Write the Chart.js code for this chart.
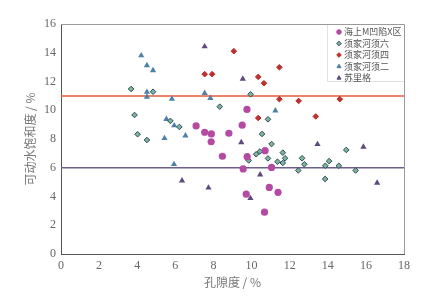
<!DOCTYPE html>
<html lang="zh">
<head>
<meta charset="UTF-8" />
<title>孔隙度与可动水饱和度</title>
<style>
  html, body { margin: 0; padding: 0; background: #fff; }
</style>
</head>
<body>
<canvas id="myChart" width="429" height="299"></canvas>
<script src="https://cdn.jsdelivr.net/npm/chart.js"></script>
<script>
// series names (legend order)
const seriesNames = ["海上M凹陷X区", "须家河须六", "须家河须四", "须家河须二", "苏里格"];

// 海上M凹陷X区
const xqX = [7.09, 7.54, 7.89, 7.88, 8.81, 9.51, 9.76, 8.47, 9.77, 10.71, 9.56, 11.05, 10.93, 11.39, 9.72, 10.68];
const xqY = [8.91, 8.47, 8.35, 7.81, 8.40, 8.96, 10.06, 6.80, 6.77, 7.19, 5.92, 6.02, 4.63, 4.29, 4.16, 2.91];

// 须家河须六
const x6X = [3.68, 4.83, 3.86, 5.74, 6.21, 4.02, 4.51, 8.33, 9.95, 10.86, 10.55, 11.05, 10.24, 10.44, 9.85,
             10.86, 11.64, 11.76, 11.36, 11.64, 12.45, 12.65, 12.77, 13.87, 14.07, 13.86, 14.58, 14.97, 15.46];
const x6Y = [11.48, 11.29, 9.67, 9.26, 8.84, 8.33, 7.93, 10.25, 11.11, 9.37, 8.35, 7.65, 6.94, 7.13, 6.51,
             6.65, 7.05, 6.66, 6.42, 6.33, 5.81, 6.66, 6.24, 6.14, 6.46, 5.22, 6.14, 7.24, 5.81];

// 须家河须四
const x4X = [7.54, 7.93, 9.07, 10.35, 10.65, 11.46, 10.35, 11.46, 12.47, 13.37, 14.63];
const x4Y = [12.51, 12.51, 14.11, 12.32, 11.88, 12.99, 9.46, 10.77, 10.65, 9.57, 10.77];

// 须家河须二
const x2X = [4.21, 4.51, 4.83, 4.51, 4.51, 5.82, 5.53, 5.94, 6.53, 5.43, 5.93, 7.54, 7.84, 11.25];
const x2Y = [13.81, 13.12, 12.77, 11.27, 10.93, 10.79, 9.38, 8.94, 8.23, 8.05, 6.24, 11.19, 10.84, 9.97];

// 苏里格
const slgX = [7.54, 9.54, 9.46, 6.35, 7.74, 10.45, 9.94, 13.46, 15.87, 16.59];
const slgY = [14.43, 12.18, 7.76, 5.10, 4.61, 5.52, 3.88, 7.63, 7.45, 4.95];

// reference lines (y values) and axis ranges
const refLines = [11, 6];
const xRange = [0, 18];
const yRange = [0, 16];

function pts(xs, ys) { return xs.map((x, i) => ({ x: x, y: ys[i] })); }

const serif = "'Liberation Serif', 'Times New Roman', serif";
const cjk = "'Noto Sans CJK SC', 'Noto Sans', sans-serif";

const framePlugin = {
  id: "frame",
  beforeDatasetsDraw(chart) {
    const { ctx, chartArea: a } = chart;
    ctx.save();
    ctx.strokeStyle = "#9a9a9a";
    ctx.lineWidth = 1;
    ctx.beginPath();
    ctx.moveTo(a.left, Math.round(a.top) + 0.5);
    ctx.lineTo(Math.round(a.right) + 0.5, Math.round(a.top) + 0.5);
    ctx.lineTo(Math.round(a.right) + 0.5, a.bottom);
    ctx.stroke();
    ctx.restore();
  },
  afterDraw(chart) {
    // legend box in the upper right of the plot
    const { ctx, chartArea: a } = chart;
    const boxL = a.right - 77, boxT = a.top, boxB = a.top + 57;
    ctx.save();
    ctx.fillStyle = "#fff";
    ctx.fillRect(boxL, boxT + 1, a.right - boxL - 1, boxB - boxT);
    ctx.strokeStyle = "#e2e2e2";
    ctx.beginPath();
    ctx.moveTo(boxL + 0.5, boxT + 1);
    ctx.lineTo(boxL + 0.5, boxB + 0.5);
    ctx.lineTo(a.right, boxB + 0.5);
    ctx.stroke();
    ctx.font = "9px " + cjk;
    ctx.textBaseline = "middle";
    let y = boxT + 8;
    chart.data.datasets.forEach(ds => {
      if (!seriesNames.includes(ds.label)) return;
      ctx.fillStyle = ds.backgroundColor;
      ctx.strokeStyle = ds.borderColor;
      ctx.lineWidth = 1;
      Chart.helpers.drawPoint(ctx, { pointStyle: ds.pointStyle, radius: 2.3, rotation: 0, borderWidth: 1 }, boxL + 12, y);
      ctx.fillStyle = "#555";
      ctx.fillText(ds.label, boxL + 17, y);
      y += 11.5;
    });
    ctx.restore();
  }
};

const ctx = document.getElementById("myChart").getContext("2d");
new Chart(ctx, {
  type: "scatter",
  data: {
    datasets: [
      { label: seriesNames[0], data: pts(xqX, xqY), pointStyle: "circle", pointRadius: 3.6,
        backgroundColor: "#b54aa3", borderColor: "#b54aa3", borderWidth: 0, order: 1 },
      { label: seriesNames[1], data: pts(x6X, x6Y), pointStyle: "rectRot", pointRadius: 2.8,
        backgroundColor: "#7db59c", borderColor: "#2f4858", borderWidth: 1, order: 1 },
      { label: seriesNames[2], data: pts(x4X, x4Y), pointStyle: "rectRot", pointRadius: 2.8,
        backgroundColor: "#c0302c", borderColor: "#b82a2a", borderWidth: 1, order: 1 },
      { label: seriesNames[3], data: pts(x2X, x2Y), pointStyle: "triangle", pointRadius: 3.6,
        backgroundColor: "#4d81a8", borderColor: "#4d81a8", borderWidth: 0, order: 1 },
      { label: seriesNames[4], data: pts(slgX, slgY), pointStyle: "triangle", pointRadius: 3.6,
        backgroundColor: "#5c4a7e", borderColor: "#5c4a7e", borderWidth: 0, order: 1 },
      { label: "ref11", type: "line", data: [{ x: xRange[0], y: refLines[0] }, { x: xRange[1], y: refLines[0] }],
        borderColor: "#e25a3a", borderWidth: 1.5, pointRadius: 0, order: 10 },
      { label: "ref6", type: "line", data: [{ x: xRange[0], y: refLines[1] }, { x: xRange[1], y: refLines[1] }],
        borderColor: "#6f5f8e", borderWidth: 1.5, pointRadius: 0, order: 10 }
    ]
  },
  options: {
    responsive: false,
    devicePixelRatio: 1,
    animation: false,
    layout: { padding: { top: 24, right: 25, left: 0, bottom: 0 } },
    plugins: { legend: { display: false }, tooltip: { enabled: false } },
    scales: {
      x: {
        type: "linear", min: xRange[0], max: xRange[1],
        grid: { display: false, drawTicks: false },
        border: { display: true, color: "#555", width: 1 },
        ticks: { stepSize: 2, padding: 5, color: "#666", font: { family: serif, size: 12 } },
        title: { display: true, text: "孔隙度 / %", color: "#777", padding: { top: 0, bottom: 9 },
                 font: { family: cjk, size: 12 } },
        afterFit(scale) { scale.height = 45; }
      },
      y: {
        type: "linear", min: yRange[0], max: yRange[1],
        grid: { display: false, drawTicks: false },
        border: { display: true, color: "#555", width: 1 },
        ticks: { stepSize: 2, padding: 5, color: "#666", font: { family: serif, size: 12 } },
        title: { display: true, text: "可动水饱和度 / %", color: "#777", padding: { top: 23, bottom: 0 },
                 font: { family: cjk, size: 12 } },
        afterFit(scale) { scale.width = 61; }
      }
    }
  },
  plugins: [framePlugin]
});
</script>
</body>
</html>
